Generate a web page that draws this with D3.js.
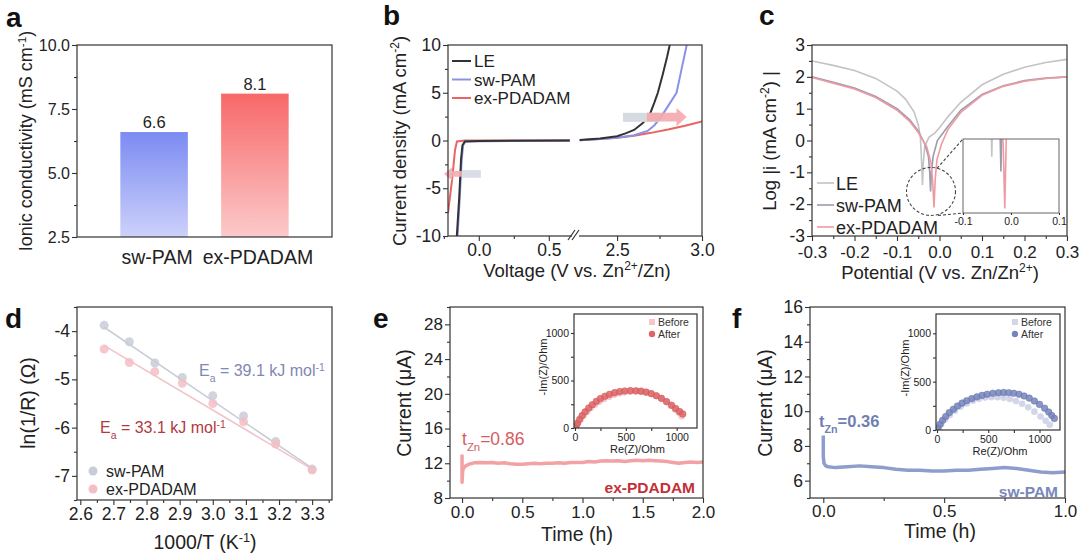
<!DOCTYPE html>
<html>
<head>
<meta charset="utf-8">
<script src="https://cdn.jsdelivr.net/npm/d3@7"></script>
<style>
  body { margin: 0; background: #fff; }
  svg { font-family: "Liberation Sans", Arial, sans-serif; }
</style>
</head>
<body>
<div id="chart"></div>
<script>
// ---------- data ----------
// (a) ionic conductivity
const aCategories = ["sw-PAM", "ex-PDADAM"];
const aValues = [6.6, 8.1];
const aTicks = [2.5, 5.0, 7.5, 10.0];

// (b) LSV, left (cathodic) and right (anodic) parts of the broken axis
const bLeftLE = [[-0.157, -10], [-0.14, -6], [-0.127, -2], [-0.117, -0.5], [-0.1, -0.1], [0, -0.05], [0.65, 0]];
const bLeftSW = [[-0.152, -10], [-0.136, -6], [-0.122, -2], [-0.112, -0.5], [-0.095, -0.1], [0.65, 0]];
const bLeftEX = [[-0.22, -7.6], [-0.19, -4], [-0.17, -1], [-0.156, -0.1], [-0.1, 0], [0.65, 0]];
const bRightLE = [[2.28, 0.05], [2.4, 0.2], [2.5, 0.45], [2.55, 0.75], [2.6, 1.1], [2.65, 1.8], [2.69, 2.6], [2.72, 4], [2.74, 5], [2.77, 7], [2.795, 8.8], [2.81, 10]];
const bRightSW = [[2.28, 0.03], [2.4, 0.15], [2.5, 0.3], [2.6, 0.55], [2.68, 1.0], [2.72, 1.6], [2.76, 2.5], [2.8, 3.6], [2.85, 5], [2.88, 7.5], [2.91, 10]];
const bRightEX = [[2.28, 0.02], [2.4, 0.15], [2.5, 0.3], [2.6, 0.5], [2.7, 0.8], [2.8, 1.15], [2.9, 1.55], [3.0, 2.0]];
const bLegend = ["LE", "sw-PAM", "ex-PDADAM"];

// (c) Tafel plots
const cLE = [[-0.3, 2.5], [-0.25, 2.36], [-0.2, 2.2], [-0.15, 1.95], [-0.1, 1.55], [-0.08, 1.3], [-0.06, 0.9], [-0.05, 0.5], [-0.045, 0.1], [-0.042, -0.7], [-0.04, -1.4], [-0.038, -0.7], [-0.035, -0.2], [-0.025, 0.1], [-0.01, 0.25], [0, 0.4], [0.02, 0.75], [0.05, 1.2], [0.1, 1.75], [0.15, 2.08], [0.2, 2.3], [0.25, 2.45], [0.3, 2.55]];
const cSW = [[-0.3, 2.0], [-0.25, 1.83], [-0.2, 1.65], [-0.15, 1.38], [-0.1, 1.0], [-0.07, 0.65], [-0.05, 0.3], [-0.035, -0.1], [-0.026, -0.5], [-0.023, -1.0], [-0.021, -1.6], [-0.019, -1.0], [-0.015, -0.5], [-0.005, 0.0], [0.02, 0.45], [0.05, 0.95], [0.1, 1.45], [0.15, 1.72], [0.2, 1.88], [0.25, 1.96], [0.3, 2.0]];
const cEX = [[-0.3, 1.98], [-0.25, 1.8], [-0.2, 1.62], [-0.15, 1.35], [-0.1, 0.95], [-0.07, 0.6], [-0.05, 0.25], [-0.03, -0.2], [-0.02, -0.7], [-0.016, -1.3], [-0.013, -2.1], [-0.01, -1.2], [-0.006, -0.6], [0.005, -0.1], [0.02, 0.35], [0.05, 0.88], [0.1, 1.42], [0.15, 1.7], [0.2, 1.86], [0.25, 1.95], [0.3, 2.0]];
const cLegend = ["LE", "sw-PAM", "ex-PDADAM"];

// (d) Arrhenius plot
const dX = [2.672, 2.748, 2.825, 2.908, 3.0, 3.093, 3.19, 3.3];
const dSW = [-3.88, -4.22, -4.66, -4.96, -5.34, -5.76, -6.29, -6.86];
const dEX = [-4.37, -4.65, -4.84, -5.08, -5.5, -5.88, -6.34, -6.88];
const dFitSW = [[2.672, -3.92], [3.3, -6.84]];
const dFitEX = [[2.672, -4.3], [3.3, -6.86]];

// (e) ex-PDADAM chronoamperometry + EIS
const eCurve = [[0, 13], [0, 9.8], [0.005, 11], [0.01, 11.4], [0.03, 11.7], [0.06, 11.9], [0.1, 12.05], [0.15, 12.1], [0.2, 12.05], [0.25, 12.1], [0.3, 12.0], [0.35, 12.05], [0.4, 11.95], [0.45, 11.9], [0.5, 11.9], [0.55, 11.95], [0.6, 12.0], [0.65, 11.95], [0.7, 12.0], [0.75, 12.0], [0.8, 12.05], [0.85, 12.0], [0.9, 12.1], [0.95, 12.1], [1.0, 12.1], [1.05, 12.2], [1.1, 12.15], [1.15, 12.25], [1.2, 12.3], [1.25, 12.25], [1.3, 12.3], [1.35, 12.2], [1.4, 12.3], [1.45, 12.35], [1.5, 12.3], [1.55, 12.35], [1.6, 12.3], [1.65, 12.25], [1.7, 12.2], [1.75, 12.1], [1.8, 12.0], [1.85, 12.1], [1.9, 12.15], [1.95, 12.1], [2.0, 12.15]];
const eBefore = [[10, 18], [30, 55], [55, 95], [85, 135], [120, 175], [155, 210], [195, 245], [240, 278], [285, 305], [335, 330], [385, 350], [435, 365], [485, 376], [540, 382], [595, 383], [650, 380], [700, 372], [750, 358], [800, 338], [850, 310], [900, 275], [945, 235], [985, 195], [1020, 160], [1050, 125]];
const eAfter = [[10, 22], [25, 50], [45, 90], [70, 130], [100, 170], [135, 210], [170, 245], [210, 280], [250, 310], [295, 335], [340, 355], [390, 372], [440, 383], [490, 390], [545, 393], [600, 392], [650, 388], [700, 378], [750, 362], [800, 340], [850, 312], [900, 278], [950, 240], [990, 205], [1030, 172], [1060, 148]];

// (f) sw-PAM chronoamperometry + EIS
const fCurve = [[0, 8.6], [0, 7.4], [0.003, 7.0], [0.01, 6.85], [0.02, 6.8], [0.05, 6.75], [0.1, 6.8], [0.15, 6.85], [0.2, 6.8], [0.25, 6.75], [0.3, 6.65], [0.35, 6.6], [0.4, 6.6], [0.45, 6.55], [0.5, 6.55], [0.55, 6.6], [0.6, 6.6], [0.65, 6.65], [0.7, 6.7], [0.75, 6.75], [0.8, 6.7], [0.85, 6.6], [0.9, 6.5], [0.95, 6.45], [1.0, 6.5]];
const fBefore = [[10, 15], [40, 60], [80, 110], [125, 155], [175, 200], [230, 240], [290, 275], [350, 303], [410, 322], [470, 335], [530, 340], [590, 340], [650, 333], [710, 320], [770, 300], [830, 272], [890, 235], [950, 190], [1010, 140], [1060, 95], [1100, 55]];
const fAfter = [[10, 20], [30, 60], [55, 100], [85, 140], [120, 180], [160, 215], [200, 248], [245, 278], [290, 303], [340, 325], [390, 343], [440, 358], [490, 370], [545, 380], [600, 386], [650, 388], [700, 386], [750, 380], [800, 370], [850, 352], [900, 330], [950, 300], [1000, 265], [1050, 225], [1090, 185], [1120, 150], [1145, 120]];

// ---------- helpers ----------
const width = 1080, height = 556;
const svg = d3.select("#chart").append("svg")
  .attr("width", width).attr("height", height);
const defs = svg.append("defs");
const AX = "#333";

function frame(x0, y0, x1, y1, fill) {
  svg.append("rect").attr("x", x0).attr("y", y0)
    .attr("width", x1 - x0).attr("height", y1 - y0)
    .attr("fill", fill || "none").attr("stroke", AX).attr("stroke-width", 1.2);
}

function clip(id, x0, y0, x1, y1) {
  defs.append("clipPath").attr("id", id).append("rect")
    .attr("x", x0).attr("y", y0).attr("width", x1 - x0).attr("height", y1 - y0);
  return svg.append("g").attr("clip-path", `url(#${id})`);
}

function styleAxis(g, fs) {
  g.selectAll(".domain").remove();
  g.selectAll("line").attr("stroke", AX).attr("stroke-width", 1.1);
  g.selectAll("text").attr("font-size", fs).attr("fill", "#222")
    .attr("font-family", '"Liberation Sans", Arial, sans-serif');
}

function leftAxis(scale, x, major, minor, fmt, fs, size) {
  const g = svg.append("g").attr("transform", `translate(${x},0)`);
  g.call(d3.axisLeft(scale).tickValues(major).tickSize(size || 5).tickPadding(2).tickFormat(fmt));
  if (minor) g.append("g").call(d3.axisLeft(scale).tickValues(minor).tickSize(3).tickFormat(""));
  styleAxis(g, fs);
  return g;
}

function bottomAxis(scale, y, major, minor, fmt, fs, size, pad) {
  const g = svg.append("g").attr("transform", `translate(0,${y})`);
  g.call(d3.axisBottom(scale).tickValues(major).tickSize(size || 5).tickPadding(pad || 3).tickFormat(fmt));
  if (minor) g.append("g").call(d3.axisBottom(scale).tickValues(minor).tickSize(3).tickFormat(""));
  styleAxis(g, fs);
  return g;
}

function yTitle(x, y, parts, fs) {
  const t = svg.append("text").attr("transform", `translate(${x},${y}) rotate(-90)`)
    .attr("text-anchor", "middle").attr("font-size", fs).attr("fill", "#222");
  addParts(t, parts);
  return t;
}

function xTitle(x, y, parts, fs) {
  const t = svg.append("text").attr("x", x).attr("y", y)
    .attr("text-anchor", "middle").attr("font-size", fs).attr("fill", "#222");
  addParts(t, parts);
  return t;
}

// parts: array of [text, "sup"|"sub"|undefined]
function addParts(t, parts) {
  parts.forEach(p => {
    const s = t.append("tspan").text(p[0]);
    if (p[1] === "sup") s.attr("baseline-shift", "super").attr("font-size", "65%");
    if (p[1] === "sub") s.attr("baseline-shift", "sub").attr("font-size", "65%");
  });
}

function letter(x, y, s) {
  svg.append("text").attr("x", x).attr("y", y).attr("font-size", 28)
    .attr("font-weight", "bold").attr("fill", "#111").text(s);
}

const range = (a, b, s) => d3.range(a, b + s / 2, s);
// plain hyphen minus, like the original figure
const f1 = d => d3.format(".1f")(d).replace("\u2212", "-");
const f0 = d => d3.format("d")(d).replace("\u2212", "-");

// ---------- (a) ----------
{
  const x = d3.scaleBand().domain(aCategories).range([77, 332]).paddingInner(0.33).paddingOuter(0.43);
  const y = d3.scaleLinear().domain([2.5, 10]).range([237, 45]);
  const grads = [["gA0", "#7b8bf2", "#cdd1fa"], ["gA1", "#f86868", "#fccaca"]];
  grads.forEach(g => {
    const lg = defs.append("linearGradient").attr("id", g[0]).attr("x1", 0).attr("y1", 0).attr("x2", 0).attr("y2", 1);
    lg.append("stop").attr("offset", "0%").attr("stop-color", g[1]);
    lg.append("stop").attr("offset", "100%").attr("stop-color", g[2]);
  });
  svg.selectAll(".barA").data(aValues).enter().append("rect")
    .attr("x", (d, i) => x(aCategories[i]))
    .attr("y", d => y(d))
    .attr("width", x.bandwidth())
    .attr("height", d => y(2.5) - y(d))
    .attr("fill", (d, i) => `url(#gA${i})`);
  svg.selectAll(".valA").data(aValues).enter().append("text")
    .attr("x", (d, i) => x(aCategories[i]) + x.bandwidth() / 2)
    .attr("y", d => y(d) - 4)
    .attr("text-anchor", "middle").attr("font-size", 16.5).attr("fill", "#222")
    .text(d => f1(d));
  frame(77, 45, 332, 237);
  leftAxis(y, 77, aTicks, range(3.75, 8.75, 2.5), f1, 16);
  svg.selectAll(".catA").data(aCategories).enter().append("text")
    .attr("x", d => x(d) + x.bandwidth() / 2 + 3)
    .attr("y", 264).attr("text-anchor", "middle").attr("font-size", 19.5).attr("fill", "#222")
    .text(d => d);
  yTitle(32, 141, [["Ionic conductivity (mS cm"], ["-1", "sup"], [")"]], 18);
  letter(6, 27, "a");
}

// ---------- (b) ----------
{
  const xl = d3.scaleLinear().domain([-0.22, 0.68]).range([448, 574]);
  const xr = d3.scaleLinear().domain([2.27, 3.0]).range([578, 702]);
  const y = d3.scaleLinear().domain([-10, 10]).range([236, 45]);
  const g = clip("clipB", 448, 45, 702, 236);
  const lineL = d3.line().x(d => xl(d[0])).y(d => y(d[1]));
  const lineR = d3.line().x(d => xr(d[0])).y(d => y(d[1]));
  const cols = ["#333333", "#8a92e6", "#ea6464"];
  [[bLeftEX, bRightEX, 2], [bLeftSW, bRightSW, 1], [bLeftLE, bRightLE, 0]].forEach(s => {
    g.append("path").attr("d", lineL(s[0])).attr("fill", "none").attr("stroke", cols[s[2]]).attr("stroke-width", 2);
    g.append("path").attr("d", lineR(s[1])).attr("fill", "none").attr("stroke", cols[s[2]]).attr("stroke-width", 2);
  });
  // arrows
  svg.append("rect").attr("x", xl(-0.12)).attr("y", y(-3.1)).attr("width", xl(0.015) - xl(-0.12))
    .attr("height", y(-3.9) - y(-3.1)).attr("fill", "#d9dee6");
  svg.append("path").attr("fill", "#f4adb0").attr("opacity", 0.9)
    .attr("d", `M${xl(-0.25)},${y(-3.5)} L${xl(-0.19)},${y(-2.8)} L${xl(-0.19)},${y(-3.2)} L${xl(-0.12)},${y(-3.2)} L${xl(-0.12)},${y(-3.8)} L${xl(-0.19)},${y(-3.8)} L${xl(-0.19)},${y(-4.2)} Z`);
  svg.append("rect").attr("x", xr(2.535)).attr("y", y(2.9)).attr("width", xr(2.75) - xr(2.535))
    .attr("height", y(1.95) - y(2.9)).attr("fill", "#d6dbe2");
  svg.append("path").attr("fill", "#f4a9ab").attr("opacity", 0.9)
    .attr("d", `M${xr(2.91)},${y(2.45)} L${xr(2.85)},${y(3.4)} L${xr(2.85)},${y(2.9)} L${xr(2.675)},${y(2.9)} L${xr(2.675)},${y(2.0)} L${xr(2.85)},${y(2.0)} L${xr(2.85)},${y(1.5)} Z`);
  frame(448, 45, 702, 236);
  leftAxis(y, 448, [-10, -5, 0, 5, 10], range(-7.5, 7.5, 5), f0, 17.5);
  bottomAxis(xl, 236, [0, 0.5], [-0.2499, 0.25], f1, 17.5);
  bottomAxis(xr, 236, [2.5, 3.0], [2.75], f1, 17.5);
  // axis break
  svg.append("rect").attr("x", 572).attr("y", 232).attr("width", 7).attr("height", 8).attr("fill", "#fff");
  svg.append("line").attr("x1", 568).attr("y1", 240).attr("x2", 575).attr("y2", 230).attr("stroke", AX).attr("stroke-width", 1.2);
  svg.append("line").attr("x1", 572).attr("y1", 240).attr("x2", 579).attr("y2", 230).attr("stroke", AX).attr("stroke-width", 1.2);
  // legend
  bLegend.forEach((s, i) => {
    const yy = 61 + i * 18.5;
    svg.append("line").attr("x1", 452).attr("x2", 471).attr("y1", yy).attr("y2", yy)
      .attr("stroke", cols[i]).attr("stroke-width", 2);
    svg.append("text").attr("x", 474).attr("y", yy + 6).attr("font-size", 17).attr("fill", "#222").text(s);
  });
  yTitle(406, 141, [["Current density (mA cm"], ["-2", "sup"], [")"]], 18.5);
  xTitle(577, 277, [["Voltage (V vs. Zn"], ["2+", "sup"], ["/Zn)"]], 18.5);
  letter(383, 25, "b");
}

// ---------- (c) ----------
{
  const x = d3.scaleLinear().domain([-0.3, 0.3]).range([812, 1067]);
  const y = d3.scaleLinear().domain([-3, 3]).range([236, 45]);
  const cols = ["#c3c3c8", "#9a9cae", "#ef9aa2"];
  const series = [cLE, cSW, cEX];
  const g = clip("clipC", 812, 45, 1067, 236);
  const line = d3.line().x(d => x(d[0])).y(d => y(d[1]));
  series.forEach((s, i) => g.append("path").attr("d", line(s)).attr("fill", "none")
    .attr("stroke", cols[i]).attr("stroke-width", 1.6));
  // zoom circle and connectors
  const cx = x(-0.02), cy = y(-1.6);
  svg.append("ellipse").attr("cx", cx).attr("cy", cy).attr("rx", 24.5).attr("ry", 24)
    .attr("fill", "none").attr("stroke", "#444").attr("stroke-width", 1.1).attr("stroke-dasharray", "3,2");
  // inset
  const ix = d3.scaleLinear().domain([-0.1, 0.1]).range([963, 1059]);
  const iy = d3.scaleLinear().domain([-2.16, -1.16]).range([213, 139]);
  svg.append("line").attr("x1", cx + 6).attr("y1", cy - 23).attr("x2", 963).attr("y2", 139)
    .attr("stroke", "#444").attr("stroke-width", 1.1).attr("stroke-dasharray", "3,2");
  svg.append("line").attr("x1", cx + 7).attr("y1", cy + 24).attr("x2", 963).attr("y2", 213)
    .attr("stroke", "#444").attr("stroke-width", 1.1).attr("stroke-dasharray", "3,2");
  svg.append("rect").attr("x", 963).attr("y", 139).attr("width", 96).attr("height", 74).attr("fill", "#fff");
  const gi = clip("clipCi", 963, 139, 1059, 213);
  const iline = d3.line().x(d => ix(d[0])).y(d => iy(d[1]));
  series.forEach((s, i) => gi.append("path").attr("d", iline(s)).attr("fill", "none")
    .attr("stroke", cols[i]).attr("stroke-width", 1.6));
  svg.append("rect").attr("x", 963).attr("y", 139).attr("width", 96).attr("height", 74)
    .attr("fill", "none").attr("stroke", "#666").attr("stroke-width", 1);
  bottomAxis(ix, 213, [-0.1, 0.0, 0.1], null, f1, 10.5, 2);
  frame(812, 45, 1067, 236);
  leftAxis(y, 812, range(-3, 3, 1), range(-2.5, 2.5, 1), f0, 17.5);
  bottomAxis(x, 236, range(-0.3, 0.3, 0.1), range(-0.25, 0.25, 0.1), f1, 17, 5, 5);
  cLegend.forEach((s, i) => {
    const yy = 183 + i * 22;
    svg.append("line").attr("x1", 817).attr("x2", 834).attr("y1", yy).attr("y2", yy)
      .attr("stroke", cols[i]).attr("stroke-width", 1.6);
    svg.append("text").attr("x", 836).attr("y", yy + 6.5).attr("font-size", 18).attr("fill", "#222").text(s);
  });
  yTitle(776, 141, [["Log |i (mA cm"], ["-2", "sup"], [") |"]], 18.5);
  xTitle(940, 279, [["Potential (V vs. Zn/Zn"], ["2+", "sup"], [")"]], 18.5);
  letter(759, 25, "c");
}

// ---------- (d) ----------
{
  const x = d3.scaleLinear().domain([2.59, 3.36]).range([77, 332]);
  const y = d3.scaleLinear().domain([-7.5, -3.5]).range([500, 307]);
  const line = d3.line().x(d => x(d[0])).y(d => y(d[1]));
  svg.append("path").attr("d", line(dFitSW)).attr("stroke", "#c9cdd8").attr("stroke-width", 1.6).attr("fill", "none");
  svg.append("path").attr("d", line(dFitEX)).attr("stroke", "#f2c4ca").attr("stroke-width", 1.6).attr("fill", "none");
  svg.selectAll(".ptSW").data(dSW).enter().append("circle")
    .attr("cx", (d, i) => x(dX[i])).attr("cy", d => y(d)).attr("r", 4.5)
    .attr("fill", "#c8ccd6").attr("opacity", 0.85);
  svg.selectAll(".ptEX").data(dEX).enter().append("circle")
    .attr("cx", (d, i) => x(dX[i])).attr("cy", d => y(d)).attr("r", 4.5)
    .attr("fill", "#f3bec6").attr("opacity", 0.85);
  frame(77, 307, 332, 500);
  leftAxis(y, 77, [-4, -5, -6, -7], range(-7.5, -3.5, 0.5).filter(v => v % 1 !== 0), f0, 17.5);
  bottomAxis(x, 500, range(2.6, 3.3, 0.1), range(2.65, 3.35, 0.1), f1, 17.5);
  const ea1 = svg.append("text").attr("x", 199).attr("y", 376).attr("font-size", 16).attr("fill", "#7f88b4");
  addParts(ea1, [["E"], ["a", "sub"], [" = 39.1 kJ mol"], ["-1", "sup"]]);
  const ea2 = svg.append("text").attr("x", 100).attr("y", 433).attr("font-size", 16).attr("fill", "#b23a3e");
  addParts(ea2, [["E"], ["a", "sub"], [" = 33.1 kJ mol"], ["-1", "sup"]]);
  [["sw-PAM", "#c8ccd6"], ["ex-PDADAM", "#f3bec6"]].forEach((s, i) => {
    const yy = 471 + i * 18;
    svg.append("circle").attr("cx", 93).attr("cy", yy).attr("r", 4.5).attr("fill", s[1]);
    svg.append("text").attr("x", 106).attr("y", yy + 6).attr("font-size", 16).attr("fill", "#222").text(s[0]);
  });
  yTitle(35, 403, [["ln(1/R) (Ω)"]], 19.5);
  xTitle(205, 549, [["1000/T (K"], ["-1", "sup"], [")"]], 19.5);
  letter(5, 328, "d");
}

// ---------- inset helper for (e) and (f) ----------
function nyquist(x0, y0, x1, y1, before, after, cBefore, cAfter, id) {
  const ix = d3.scaleLinear().domain([0, 1200]).range([x0 + 1, x1]);
  const iy = d3.scaleLinear().domain([0, 1200]).range([y1, y0]);
  svg.append("rect").attr("x", x0).attr("y", y0).attr("width", x1 - x0).attr("height", y1 - y0).attr("fill", "#fff");
  const g = clip(id, x0, y0, x1, y1);
  g.selectAll(".b").data(before).enter().append("circle")
    .attr("cx", d => ix(d[0])).attr("cy", d => iy(d[1])).attr("r", 3.3).attr("fill", cBefore);
  g.selectAll(".a").data(after).enter().append("circle")
    .attr("cx", d => ix(d[0])).attr("cy", d => iy(d[1])).attr("r", 3.3)
    .attr("fill", cAfter).attr("fill-opacity", 0.85).attr("stroke", d3.color(cAfter).darker(0.4)).attr("stroke-width", 0.5);
  frame(x0, y0, x1, y1);
  leftAxis(iy, x0, [0, 500, 1000], [250, 750], f0, 10.5, 3);
  bottomAxis(ix, y1, [0, 500, 1000], [250, 750], f0, 10.5, 3);
  yTitle(x0 - 27, (y0 + y1) / 2 - 4, [["-Im(Z)/Ohm"]], 11);
  xTitle((x0 + x1) / 2 + 2, y1 + 25, [["Re(Z)/Ohm"]], 11);
  svg.append("rect").attr("x", x1 - 48).attr("y", y0 + 5).attr("width", 6).attr("height", 6).attr("fill", cBefore);
  svg.append("circle").attr("cx", x1 - 45).attr("cy", y0 + 20).attr("r", 3.2).attr("fill", cAfter);
  svg.append("text").attr("x", x1 - 39).attr("y", y0 + 11.5).attr("font-size", 10.5).attr("fill", "#333").text("Before");
  svg.append("text").attr("x", x1 - 39).attr("y", y0 + 23.5).attr("font-size", 10.5).attr("fill", "#333").text("After");
}

// ---------- (e) ----------
{
  const x = d3.scaleLinear().domain([-0.1, 2.0]).range([450, 703]);
  const y = d3.scaleLinear().domain([8, 30]).range([498, 307]);
  const line = d3.line().x(d => x(d[0])).y(d => y(d[1]));
  svg.append("path").attr("d", line(eCurve)).attr("fill", "none")
    .attr("stroke", "#f2a2a5").attr("stroke-width", 3.5).attr("stroke-linejoin", "round");
  frame(450, 307, 703, 498);
  leftAxis(y, 450, range(8, 28, 4), range(10, 30, 4), f0, 17);
  bottomAxis(x, 498, range(0, 2, 0.5), range(0.25, 1.75, 0.5), f1, 17);
  nyquist(574, 314, 697, 428, eBefore, eAfter, "#f6c6c9", "#e06466", "clipEi");
  const t = svg.append("text").attr("x", 462).attr("y", 445).attr("font-size", 17.5).attr("fill", "#d65c5f");
  addParts(t, [["t"], ["Zn", "sub"], ["=0.86"]]);
  svg.append("text").attr("x", 695).attr("y", 493).attr("text-anchor", "end").attr("font-size", 15.5)
    .attr("font-weight", "bold").attr("fill", "#c23038").text("ex-PDADAM");
  yTitle(411, 403, [["Current (μA)"]], 19.5);
  xTitle(577, 541, [["Time (h)"]], 19.5);
  letter(373, 328, "e");
}

// ---------- (f) ----------
{
  const x = d3.scaleLinear().domain([-0.055, 1.0]).range([810, 1065]);
  const y = d3.scaleLinear().domain([5, 16]).range([498, 307]);
  const line = d3.line().x(d => x(d[0])).y(d => y(d[1]));
  svg.append("path").attr("d", line(fCurve)).attr("fill", "none")
    .attr("stroke", "#8e9dcb").attr("stroke-width", 3.5).attr("stroke-linejoin", "round");
  frame(810, 307, 1065, 498);
  leftAxis(y, 810, range(6, 16, 2), range(5, 15, 2), f0, 17.5);
  bottomAxis(x, 498, [0, 0.5, 1.0], [0.25, 0.75], f1, 17, 5, 2);
  nyquist(936, 314, 1060, 430, fBefore, fAfter, "#d3d6ea", "#7484bc", "clipFi");
  const t = svg.append("text").attr("x", 819).attr("y", 427).attr("font-size", 16.5)
    .attr("font-weight", "bold").attr("fill", "#6f7fb2");
  addParts(t, [["t"], ["Zn", "sub"], ["=0.36"]]);
  svg.append("text").attr("x", 1058).attr("y", 497).attr("text-anchor", "end").attr("font-size", 15.5)
    .attr("font-weight", "bold").attr("fill", "#7888bb").text("sw-PAM");
  yTitle(772, 403, [["Current (μA)"]], 19.5);
  xTitle(940, 538, [["Time (h)"]], 19.5);
  letter(732, 328, "f");
}
</script>
</body>
</html>
